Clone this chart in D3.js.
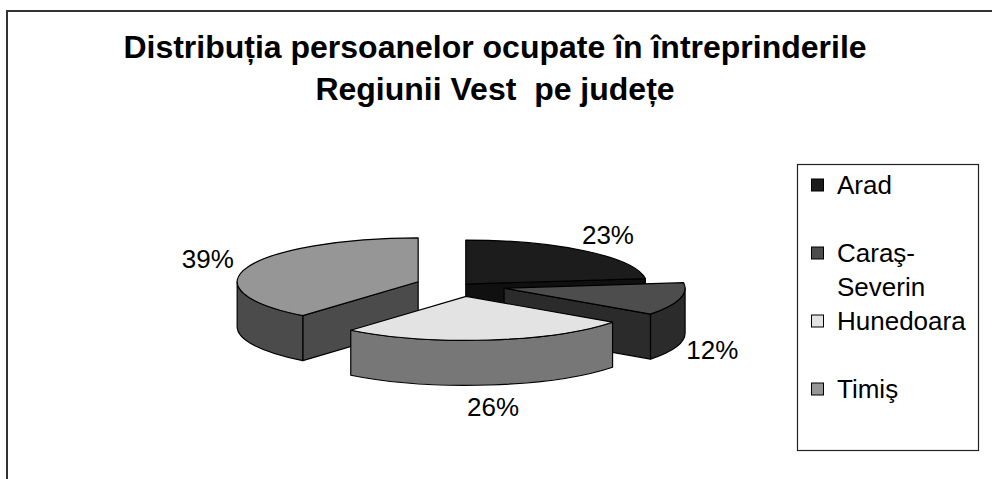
<!DOCTYPE html>
<html>
<head>
<meta charset="utf-8">
<script src="https://cdn.jsdelivr.net/npm/d3@7"></script>
<style>
  body { margin: 0; background: #fff; }
  text { font-family: "Liberation Sans", Arial, sans-serif; fill: #000; white-space: pre; }
</style>
</head>
<body>
<div id="chart"></div>
<script>
// data
const categories = ["Arad", "Caraş-Severin", "Hunedoara", "Timiş"];
const shares = [23, 12, 26, 39];
const titleLines = ["Distribuția persoanelor ocupate în întreprinderile", "Regiunii Vest  pe județe"];

// look
const topColors = ["#1c1c1c", "#4d4d4d", "#e3e3e3", "#969696"];
const sideColors = ["#101010", "#2b2b2b", "#777777", "#4b4b4b"];
const explode = [8, 45, 45, 45];

const WIDTH = 992, HEIGHT = 479;
const CX = 460.5, CY = 285.5, RX = 181, RY = 44, DEPTH = 45;

const svg = d3.select("#chart").append("svg")
    .attr("width", WIDTH)
    .attr("height", HEIGHT);

// outer frame (right and bottom edges fall outside the picture)
svg.append("rect")
    .attr("x", 7).attr("y", 11)
    .attr("width", 1000).attr("height", 500)
    .attr("fill", "#fff")
    .attr("stroke", "#333")
    .attr("stroke-width", 2);

svg.selectAll("text.title")
    .data(titleLines)
    .enter().append("text")
    .attr("class", "title")
    .attr("xml:space", "preserve")
    .attr("x", 495)
    .attr("y", (d, i) => 58 + i * 42)
    .attr("text-anchor", "middle")
    .style("font-weight", "bold")
    .style("font-size", "32px")
    .text(d => d);

const data = categories.map((c, i) => ({ name: c, value: shares[i], i: i }));
const total = d3.sum(shares);
const arcs = d3.pie().sort(null).value(d => d.value)(data);

arcs.forEach(a => {
    const b = (a.startAngle + a.endAngle) / 2;
    const e = explode[a.data.i];
    a.mid = b;
    a.ox = CX + e * Math.sin(b);
    a.oy = CY - e * Math.cos(b) * RY / RX;
    a.depthKey = a.oy - RY * 0.5 * Math.cos(b);
});

const rim = (a, ang, dy) => [a.ox + RX * Math.sin(ang), a.oy - RY * Math.cos(ang) + (dy || 0)];

function topPath(a) {
    const p1 = rim(a, a.startAngle), p2 = rim(a, a.endAngle);
    const large = (a.endAngle - a.startAngle) > Math.PI ? 1 : 0;
    return `M${a.ox},${a.oy} L${p1} A${RX},${RY} 0 ${large} 1 ${p2} Z`;
}

function facePath(a, ang) {
    const p = rim(a, ang), q = rim(a, ang, DEPTH);
    return `M${a.ox},${a.oy} L${p} L${q} L${a.ox},${a.oy + DEPTH} Z`;
}

function wallPath(a) {
    const lo = Math.max(a.startAngle, Math.PI / 2);
    const hi = Math.min(a.endAngle, Math.PI * 3 / 2);
    if (hi <= lo) return null;
    return `M${rim(a, lo)} A${RX},${RY} 0 0 1 ${rim(a, hi)} L${rim(a, hi, DEPTH)} A${RX},${RY} 0 0 0 ${rim(a, lo, DEPTH)} Z`;
}

const order = arcs.slice().sort((p, q) => p.depthKey - q.depthKey);
const pieG = svg.append("g")
    .attr("stroke", "#000")
    .attr("stroke-width", 1.2)
    .attr("stroke-linejoin", "round");

order.forEach(a => {
    const g = pieG.append("g");
    const side = sideColors[a.data.i];
    // cut faces turned toward the viewer
    if (Math.cos(a.startAngle - Math.PI / 2) < 0)
        g.append("path").attr("d", facePath(a, a.startAngle)).attr("fill", side);
    if (Math.cos(a.endAngle + Math.PI / 2) < 0)
        g.append("path").attr("d", facePath(a, a.endAngle)).attr("fill", side);
    const w = wallPath(a);
    if (w) g.append("path").attr("d", w).attr("fill", side);
    g.append("path").attr("d", topPath(a)).attr("fill", topColors[a.data.i]);
});

// percentage labels
svg.selectAll("text.pct")
    .data(arcs)
    .enter().append("text")
    .attr("class", "pct")
    .attr("x", a => a.ox + 215 * Math.sin(a.mid) + (Math.sin(a.mid) > 0 ? 0 : -8))
    .attr("y", a => a.oy - 66 * Math.cos(a.mid) + (Math.cos(a.mid) < 0 ? DEPTH : 0))
    .attr("text-anchor", "middle")
    .attr("dominant-baseline", "central")
    .style("font-size", "26px")
    .text(a => Math.round(a.value / total * 100) + "%");

// legend
const legend = svg.append("g").attr("class", "legend");
legend.append("rect")
    .attr("x", 797.5).attr("y", 164.5)
    .attr("width", 181).attr("height", 286)
    .attr("fill", "#fff")
    .attr("stroke", "#222")
    .attr("stroke-width", 1.2);

const rows = legend.selectAll("g.row")
    .data(data)
    .enter().append("g")
    .attr("class", "row")
    .attr("transform", (d, i) => `translate(811, ${185 + i * 68})`);

rows.append("rect")
    .attr("x", 0.5).attr("y", -6)
    .attr("width", 12).attr("height", 12)
    .attr("fill", d => topColors[d.i])
    .attr("stroke", "#000")
    .attr("stroke-width", 1);

rows.append("text")
    .attr("x", 26)
    .attr("y", 8.5)
    .style("font-size", "26px")
    .each(function (d) {
        const parts = d.name.includes("-") ? [d.name.split("-")[0] + "-", d.name.split("-")[1]] : [d.name];
        d3.select(this).selectAll("tspan")
            .data(parts)
            .enter().append("tspan")
            .attr("x", 26)
            .attr("dy", (p, k) => k === 0 ? 0 : 34)
            .text(p => p);
    });
</script>
</body>
</html>
